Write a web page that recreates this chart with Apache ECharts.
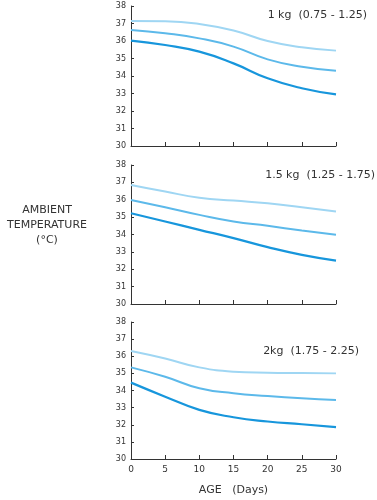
<!DOCTYPE html>
<html>
<head>
<meta charset="utf-8">
<script src="https://cdn.jsdelivr.net/npm/echarts@6/dist/echarts.min.js"></script>
<style>
  html, body { margin: 0; padding: 0; background: #fff; }
  #chart { width: 377px; height: 500px; }
</style>
</head>
<body>
<div id="chart"></div>
<script>
// age in days
var days = [0, 5, 10, 15, 20, 25, 30];

// 1 kg (0.75 - 1.25)
var kg1Upper = [37.15, 37.13, 36.97, 36.6, 36.0, 35.64, 35.45];
var kg1Mid   = [36.63, 36.44, 36.15, 35.68, 34.95, 34.53, 34.3];
var kg1Lower = [36.02, 35.77, 35.39, 34.72, 33.87, 33.3, 32.95];

// 1.5 kg (1.25 - 1.75)
var kg15Upper = [36.85, 36.47, 36.12, 35.95, 35.8, 35.57, 35.32];
var kg15Mid   = [35.99, 35.57, 35.13, 34.75, 34.5, 34.23, 33.98];
var kg15Lower = [35.22, 34.75, 34.27, 33.79, 33.27, 32.83, 32.5];

// 2 kg (1.75 - 2.25)
var kg2Upper = [36.31, 35.87, 35.35, 35.1, 35.04, 35.02, 35.0];
var kg2Mid   = [35.35, 34.8, 34.13, 33.84, 33.68, 33.55, 33.45];
var kg2Lower = [34.46, 33.64, 32.87, 32.44, 32.19, 32.03, 31.86];

var panelTitles = ['1 kg  (0.75 - 1.25)', '1.5 kg  (1.25 - 1.75)', '2kg  (1.75 - 2.25)'];
var panels = [
    [kg1Upper, kg1Mid, kg1Lower],
    [kg15Upper, kg15Mid, kg15Lower],
    [kg2Upper, kg2Mid, kg2Lower]
];

var lineColors = ['#9fd6f3', '#5cb9ea', '#1796dc'];
var lineWidths = [2, 2, 2.2];
var font = 'DejaVu Sans';

var grids = [
    { left: 131, right: 41, top: 6, height: 140 },
    { left: 131, right: 41, top: 165, height: 139 },
    { left: 131, right: 41, top: 322, height: 137 }
];

function pairs(ys) {
    return days.map(function (d, i) { return [d, ys[i]]; });
}

var xAxes = [], yAxes = [], series = [];
grids.forEach(function (g, gi) {
    xAxes.push({
        type: 'value', gridIndex: gi, min: 0, max: 30, interval: 5,
        axisLine: { lineStyle: { color: '#333', width: 1 } },
        axisTick: { show: true, inside: true, length: 4, lineStyle: { color: '#333' } },
        axisLabel: { show: gi === 2, color: '#333', fontSize: 9, fontFamily: font, margin: 6 },
        splitLine: { show: false },
        name: gi === 2 ? 'AGE   (Days)' : '',
        nameLocation: 'middle', nameGap: 26,
        nameTextStyle: { color: '#333', fontSize: 11, fontFamily: font }
    });
    yAxes.push({
        type: 'value', gridIndex: gi, min: 30, max: 38, interval: 1,
        axisLine: { show: true, lineStyle: { color: '#333', width: 1 } },
        axisTick: { show: true, inside: true, length: 3, lineStyle: { color: '#333' } },
        axisLabel: { color: '#333', fontSize: 8, fontFamily: font, margin: 5 },
        splitLine: { show: false }
    });
    panels[gi].forEach(function (ys, si) {
        series.push({
            type: 'line', xAxisIndex: gi, yAxisIndex: gi,
            data: pairs(ys), smooth: 0.5, symbol: 'none',
            lineStyle: { color: lineColors[si], width: lineWidths[si] }
        });
    });
});

var chart = echarts.init(document.getElementById('chart'));
chart.setOption({
    animation: false,
    backgroundColor: '#fff',
    grid: grids,
    xAxis: xAxes,
    yAxis: yAxes,
    series: series,
    graphic: [
        { type: 'text', right: 10, top: 10, style: { text: panelTitles[0], fill: '#333', font: '11px ' + font } },
        { type: 'text', right: 2, top: 170, style: { text: panelTitles[1], fill: '#333', font: '11px ' + font } },
        { type: 'text', right: 18, top: 346, style: { text: panelTitles[2], fill: '#333', font: '11px ' + font } },
        { type: 'text', x: 47, y: 203, style: { text: 'AMBIENT\nTEMPERATURE\n(°C)', fill: '#333',
            font: '11px ' + font, align: 'center', verticalAlign: 'top', lineHeight: 15 } }
    ]
});
</script>
</body>
</html>
